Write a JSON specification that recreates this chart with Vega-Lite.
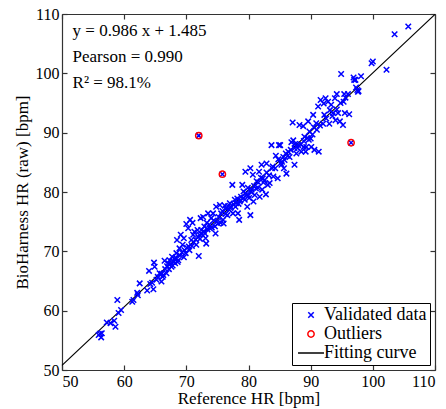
{
 "$schema": "https://vega.github.io/schema/vega-lite/v6.json",
 "width": 373, "height": 356,
 "autosize": "none",
 "padding": {"left": 62, "top": 14, "right": 11, "bottom": 39},
 "background": "white",
 "config": {
  "font": "Liberation Serif",
  "view": {"stroke": null},
  "axis": {"grid": false, "domainColor": "#333", "domainWidth": 1.2, "tickColor": "#333", "tickWidth": 1.2, "tickSize": -5, "labelPadding": 8, "labelFont": "Liberation Serif", "labelFontSize": 16, "labelColor": "black", "titleFont": "Liberation Serif", "titleFontSize": 17, "titleFontWeight": "normal", "titleColor": "black"},
  "legend": {"orient": "bottom-right", "offset": 5, "strokeColor": "black", "fillColor": "white", "padding": 3, "labelFont": "Liberation Serif", "labelFontSize": 18, "labelColor": "black", "symbolStrokeWidth": 1.5, "rowPadding": 1, "labelOffset": 4, "symbolOffset": 7, "cornerRadius": 0}
 },
 "datasets": {
  "pts": [
   {"x":56.1,"y":56.1},{"x":56.4,"y":56.2},{"x":56.3,"y":55.5},{"x":55.9,"y":55.9},{"x":57.2,"y":58.0},{"x":57.8,"y":57.9},{"x":58.4,"y":58.3},{"x":58.6,"y":57.3},{"x":58.9,"y":61.8},{"x":59.1,"y":59.6},{"x":59.5,"y":60.1},{"x":61.3,"y":61.5},{"x":61.5,"y":61.8},{"x":62.1,"y":63.0},{"x":62.2,"y":62.6},{"x":62.5,"y":64.6},{"x":63.7,"y":63.4},{"x":64.0,"y":66.7},{"x":64.2,"y":64.5},{"x":64.5,"y":64.7},{"x":64.7,"y":63.6},{"x":64.8,"y":68.1},{"x":64.9,"y":67.4},{"x":65.2,"y":65.2},{"x":65.4,"y":65.7},{"x":65.7,"y":66.3},{"x":66.0,"y":64.9},{"x":66.2,"y":65.7},{"x":66.5,"y":68.4},{"x":66.6,"y":67.0},{"x":66.8,"y":66.3},{"x":67.1,"y":68.0},{"x":67.3,"y":68.5},{"x":67.6,"y":67.4},{"x":67.7,"y":69.1},{"x":67.9,"y":68.3},{"x":68.1,"y":68.8},{"x":68.2,"y":68.0},{"x":68.4,"y":69.7},{"x":68.5,"y":71.9},{"x":68.7,"y":68.5},{"x":68.9,"y":70.5},{"x":69.1,"y":72.8},{"x":69.4,"y":71.1},{"x":69.6,"y":72.2},{"x":69.7,"y":70.2},{"x":69.9,"y":69.7},{"x":70.0,"y":74.6},{"x":70.3,"y":73.9},{"x":70.4,"y":70.8},{"x":70.6,"y":75.3},{"x":70.8,"y":71.9},{"x":71.0,"y":74.8},{"x":71.1,"y":72.8},{"x":71.3,"y":73.3},{"x":71.6,"y":71.1},{"x":71.8,"y":73.6},{"x":72.0,"y":69.2},{"x":72.1,"y":72.8},{"x":72.3,"y":75.6},{"x":72.4,"y":73.6},{"x":72.7,"y":75.8},{"x":72.9,"y":74.2},{"x":73.1,"y":72.2},{"x":73.2,"y":71.3},{"x":73.3,"y":74.8},{"x":73.5,"y":76.4},{"x":73.8,"y":73.9},{"x":74.0,"y":75.6},{"x":74.3,"y":76.4},{"x":74.6,"y":74.2},{"x":74.7,"y":73.0},{"x":74.8,"y":77.5},{"x":75.1,"y":74.7},{"x":75.4,"y":77.8},{"x":75.6,"y":76.4},{"x":75.9,"y":75.3},{"x":76.0,"y":74.7},{"x":76.2,"y":77.7},{"x":76.4,"y":77.2},{"x":76.6,"y":76.1},{"x":76.9,"y":77.0},{"x":77.0,"y":78.1},{"x":77.2,"y":77.5},{"x":77.4,"y":81.2},{"x":77.5,"y":76.4},{"x":77.8,"y":78.7},{"x":78.0,"y":78.1},{"x":78.2,"y":78.9},{"x":78.3,"y":76.4},{"x":78.5,"y":75.3},{"x":78.6,"y":78.4},{"x":78.8,"y":79.2},{"x":79.0,"y":81.2},{"x":79.2,"y":80.1},{"x":79.4,"y":78.7},{"x":79.5,"y":83.4},{"x":79.7,"y":79.5},{"x":79.8,"y":77.5},{"x":79.9,"y":80.7},{"x":80.1,"y":79.0},{"x":80.3,"y":76.1},{"x":80.3,"y":84.0},{"x":80.5,"y":80.4},{"x":80.7,"y":82.9},{"x":80.8,"y":78.4},{"x":81.0,"y":79.5},{"x":81.3,"y":81.8},{"x":81.5,"y":80.7},{"x":81.7,"y":83.4},{"x":81.8,"y":79.2},{"x":82.1,"y":84.6},{"x":82.2,"y":80.4},{"x":82.3,"y":82.3},{"x":82.6,"y":82.0},{"x":82.8,"y":79.6},{"x":82.9,"y":84.8},{"x":83.1,"y":81.2},{"x":83.4,"y":81.5},{"x":83.7,"y":87.9},{"x":83.8,"y":84.0},{"x":84.0,"y":82.6},{"x":84.4,"y":86.1},{"x":84.7,"y":82.3},{"x":84.9,"y":87.9},{"x":85.1,"y":87.9},{"x":85.3,"y":84.6},{"x":85.4,"y":85.1},{"x":85.7,"y":84.0},{"x":85.8,"y":85.4},{"x":86.0,"y":86.5},{"x":86.1,"y":83.1},{"x":86.4,"y":86.8},{"x":86.6,"y":85.9},{"x":86.9,"y":88.4},{"x":87.1,"y":91.7},{"x":87.2,"y":88.7},{"x":87.4,"y":84.6},{"x":87.4,"y":87.4},{"x":87.7,"y":86.5},{"x":88.0,"y":87.9},{"x":88.2,"y":91.3},{"x":88.5,"y":86.8},{"x":88.8,"y":91.1},{"x":88.9,"y":87.6},{"x":89.0,"y":89.3},{"x":89.2,"y":86.8},{"x":89.3,"y":87.6},{"x":89.6,"y":91.9},{"x":89.7,"y":88.8},{"x":89.8,"y":90.2},{"x":90.1,"y":87.6},{"x":90.4,"y":93.0},{"x":90.5,"y":90.9},{"x":90.6,"y":87.1},{"x":90.9,"y":91.6},{"x":91.2,"y":94.4},{"x":91.3,"y":86.8},{"x":91.6,"y":95.5},{"x":92.0,"y":91.5},{"x":92.1,"y":94.9},{"x":92.4,"y":95.8},{"x":92.8,"y":95.2},{"x":93.1,"y":93.8},{"x":93.3,"y":94.7},{"x":93.6,"y":93.3},{"x":93.9,"y":95.8},{"x":94.0,"y":92.1},{"x":94.2,"y":96.5},{"x":94.4,"y":93.3},{"x":94.7,"y":91.9},{"x":94.9,"y":99.9},{"x":95.2,"y":91.3},{"x":95.4,"y":96.5},{"x":95.5,"y":93.3},{"x":95.6,"y":95.9},{"x":96.2,"y":93.1},{"x":96.9,"y":99.3},{"x":97.2,"y":98.9},{"x":97.3,"y":97.6},{"x":97.6,"y":96.9},{"x":98.1,"y":99.5},{"x":99.8,"y":101.7},{"x":100.0,"y":102.0},{"x":102.2,"y":100.6},{"x":103.5,"y":106.6},{"x":105.7,"y":107.9},
   {"x":66.0,"y":66.2},{"x":66.3,"y":66.0},{"x":66.9,"y":67.5},{"x":67.2,"y":67.0},{"x":67.5,"y":67.9},{"x":67.8,"y":67.6},{"x":68.0,"y":68.2},{"x":68.3,"y":68.9},{"x":68.6,"y":68.2},{"x":69.0,"y":69.3},{"x":69.3,"y":69.8},{"x":69.6,"y":69.0},{"x":70.1,"y":70.6},{"x":70.5,"y":70.2},{"x":70.9,"y":70.9},{"x":71.2,"y":71.5},{"x":71.5,"y":72.0},{"x":71.9,"y":72.4},{"x":72.2,"y":72.1},{"x":72.5,"y":72.9},{"x":72.8,"y":73.4},{"x":73.0,"y":73.0},{"x":73.4,"y":73.7},{"x":73.7,"y":74.5},{"x":74.1,"y":74.0},{"x":74.4,"y":75.2},{"x":74.9,"y":75.0},{"x":75.2,"y":75.8},{"x":75.5,"y":74.8},{"x":75.8,"y":76.8},{"x":76.3,"y":76.3},{"x":76.7,"y":77.6},{"x":77.1,"y":77.3},{"x":77.6,"y":77.9},{"x":77.9,"y":77.5},{"x":78.4,"y":78.0},{"x":78.7,"y":78.6},{"x":79.2,"y":79.0},{"x":79.6,"y":79.8},{"x":80.0,"y":79.4},{"x":80.4,"y":80.0},{"x":80.9,"y":81.0},{"x":81.2,"y":80.6},{"x":81.6,"y":81.6},{"x":82.0,"y":82.4},{"x":82.4,"y":81.6},{"x":82.9,"y":83.3},{"x":83.3,"y":82.8},{"x":83.9,"y":84.3},{"x":84.3,"y":84.0},{"x":84.8,"y":85.5},{"x":85.2,"y":84.9},{"x":85.6,"y":85.9},{"x":86.3,"y":86.1},{"x":86.8,"y":87.1},{"x":87.5,"y":88.1},{"x":87.9,"y":87.4},{"x":88.4,"y":88.0},{"x":88.9,"y":88.6},{"x":89.5,"y":89.1},{"x":90.0,"y":89.0},{"x":90.3,"y":89.7},{"x":91.0,"y":90.5},{"x":91.5,"y":91.2},{"x":92.2,"y":93.0},{"x":92.5,"y":92.4},{"x":93.0,"y":91.5},{"x":93.5,"y":92.8},{"x":94.2,"y":93.9},{"x":94.8,"y":95.0},{"x":95.3,"y":95.2},{"x":96.0,"y":96.5},{"x":97.5,"y":97.2},{"x":97.7,"y":97.0},{"x":97.0,"y":98.9},
   {"x":72.0,"y":89.5,"outlier":true},{"x":75.8,"y":83.0,"outlier":true},{"x":96.5,"y":88.3,"outlier":true}
  ],
  "fit": [{"x":50,"y":50.785},{"x":110,"y":109.945}],
  "notes": [{"label":"y = 0.986 x + 1.485","row":1},{"label":"Pearson = 0.990","row":2},{"label":"R² = 98.1%","row":3}]
 },
 "layer": [
  {
   "data": {"name": "fit"},
   "mark": {"type": "line", "strokeWidth": 1.2},
   "encoding": {
    "x": {"field": "x", "type": "quantitative", "scale": {"domain": [50, 110], "nice": false, "zero": false}, "axis": {"orient": "top", "labels": false, "title": null, "values": [50,60,70,80,90,100,110]}},
    "y": {"field": "y", "type": "quantitative", "scale": {"domain": [50, 110], "nice": false, "zero": false}, "axis": {"orient": "right", "labels": false, "title": null, "values": [50,60,70,80,90,100,110]}},
    "color": {"datum": "Fitting curve", "type": "nominal", "scale": {"domain": ["Validated data", "Outliers", "Fitting curve"], "range": ["#0000ff", "#ff0000", "#000000"]}, "legend": {"title": null}}
   }
  },
  {
   "data": {"name": "pts"},
   "mark": {"type": "point", "filled": false, "strokeWidth": 1.5, "opacity": 1},
   "encoding": {
    "x": {"field": "x", "type": "quantitative", "scale": {"domain": [50, 110], "nice": false, "zero": false}, "axis": {"orient": "bottom", "title": "Reference HR [bpm]", "values": [50,60,70,80,90,100,110], "titlePadding": 1}},
    "y": {"field": "y", "type": "quantitative", "scale": {"domain": [50, 110], "nice": false, "zero": false}, "axis": {"orient": "left", "title": "BioHarness HR (raw) [bpm]", "values": [50,60,70,80,90,100,110], "titlePadding": 4}},
    "color": {"datum": "Validated data", "type": "nominal", "scale": {"domain": ["Validated data", "Outliers", "Fitting curve"], "range": ["#0000ff", "#ff0000", "#000000"]}, "legend": {"title": null}},
    "shape": {"datum": "Validated data", "type": "nominal", "scale": {"domain": ["Validated data", "Outliers", "Fitting curve"], "range": ["M-1,-1L1,1M1,-1L-1,1", "circle", "M-1.73,0L1.73,0"]}, "legend": {"title": null}},
    "size": {"datum": "Validated data", "type": "ordinal", "scale": {"type": "ordinal", "domain": ["Validated data", "Outliers", "Fitting curve"], "range": [30, 40, 225]}, "legend": {"title": null}}
   }
  },
  {
   "data": {"name": "pts"},
   "transform": [{"filter": "datum.outlier === true"}],
   "mark": {"type": "point", "filled": false, "strokeWidth": 1.5, "opacity": 1},
   "encoding": {
    "x": {"field": "x", "type": "quantitative", "scale": {"domain": [50, 110], "nice": false, "zero": false}, "axis": null},
    "y": {"field": "y", "type": "quantitative", "scale": {"domain": [50, 110], "nice": false, "zero": false}, "axis": null},
    "color": {"datum": "Outliers", "type": "nominal", "scale": {"domain": ["Validated data", "Outliers", "Fitting curve"], "range": ["#0000ff", "#ff0000", "#000000"]}, "legend": {"title": null}},
    "shape": {"datum": "Outliers", "type": "nominal", "scale": {"domain": ["Validated data", "Outliers", "Fitting curve"], "range": ["M-1,-1L1,1M1,-1L-1,1", "circle", "M-1.73,0L1.73,0"]}, "legend": {"title": null}},
    "size": {"datum": "Outliers", "type": "ordinal", "scale": {"type": "ordinal", "domain": ["Validated data", "Outliers", "Fitting curve"], "range": [30, 40, 225]}, "legend": {"title": null}}
   }
  },
  {
   "data": {"name": "notes"},
   "mark": {"type": "text", "align": "left", "baseline": "middle", "fontSize": 17, "font": "Liberation Serif", "color": "black"},
   "encoding": {
    "x": {"datum": 51.7, "type": "quantitative", "axis": null},
    "y": {"field": "row", "type": "ordinal", "axis": null, "scale": {"type": "point", "domain": [1, 2, 3], "range": [17, 69], "padding": 0}},
    "text": {"field": "label"}
   }
  }
 ],
 "resolve": {"axis": {"x": "independent", "y": "independent"}}
}
